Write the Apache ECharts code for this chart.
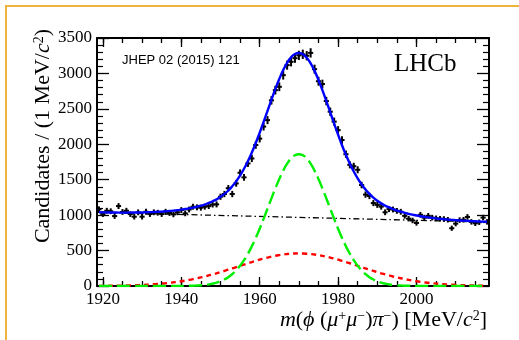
<!DOCTYPE html>
<html>
<head>
<meta charset="utf-8">
<script src="https://cdn.jsdelivr.net/npm/echarts@6/dist/echarts.min.js"></script>
<style>
html,body{margin:0;padding:0;background:#fff;}
#chart{width:519px;height:340px;}
</style>
</head>
<body>
<div id="chart"></div>
<script>
// Bin centres (MeV/c^2), 1 MeV bins from 1918.5 to 2018.5
const firstBin = 1919;
const nBins = 100;
const massRange = [1918.5, 2018.5];

// Data: candidates per 1 MeV bin
const candidates = [
  1082,1015,1062,1055,987,1128,1045,1062,1015,978,
  1040,978,1048,1015,1040,1034,1015,1048,1030,1011,
  1040,1072,1025,1080,1119,1110,1105,1119,1128,1150,
  1152,1260,1298,1380,1298,1448,1598,1533,1730,1800,
  1990,2080,2250,2341,2620,2764,2811,2976,3117,3164,
  3215,3255,3270,3250,3290,3060,2890,2850,2610,2460,
  2320,2200,2060,1860,1710,1690,1640,1425,1290,1270,
  1170,1145,1120,1040,1085,1080,1060,1048,990,950,
  925,890,1005,965,990,965,955,950,945,935,
  815,880,930,935,975,905,885,900,965,905
];

// Total fit (blue)
const fitTotal = [
  1040,1039,1039,1037,1037,1036,1036,1036,1036,1037,
  1038,1038,1040,1042,1044,1047,1050,1054,1059,1064,
  1070,1078,1086,1096,1106,1120,1134,1150,1172,1196,
  1223,1259,1300,1348,1408,1477,1559,1655,1762,1884,
  2018,2163,2316,2472,2629,2781,2921,3047,3150,3226,
  3274,3289,3271,3221,3141,3036,2908,2764,2610,2451,
  2291,2136,1987,1851,1727,1616,1518,1434,1361,1299,
  1247,1204,1166,1135,1109,1085,1065,1049,1032,1019,
  1007,995,985,977,968,961,955,948,943,937,
  933,929,925,922,919,915,913,910,908,906
];

// Narrow signal component (green long dashes)
const fitNarrow = [
  0,0,0,0,0,0,0,0,0,0,
  0,0,0,0,0,0,0,0,0,0,
  0,1,2,3,4,7,10,15,23,33,
  47,67,92,125,168,221,286,364,455,561,
  679,809,948,1092,1237,1378,1510,1628,1726,1799,
  1845,1860,1845,1799,1726,1628,1510,1378,1237,1092,
  948,809,679,561,455,364,286,221,168,125,
  92,67,47,33,23,15,10,7,4,3,
  2,1,0,0,0,0,0,0,0,0,
  0,0,0,0,0,0,0,0,0,0
];

// Wide component (red short dashes)
const fitWide = [
  2,2,3,3,4,5,6,7,9,11,
  13,15,18,21,25,29,34,39,45,52,
  59,67,76,86,97,109,121,134,149,164,
  179,196,213,230,248,266,284,303,321,338,
  355,372,387,401,414,426,436,445,451,456,
  459,460,459,456,451,445,436,426,414,401,
  387,372,355,338,321,303,284,266,248,230,
  213,196,179,164,149,134,121,109,97,86,
  76,67,59,52,45,39,34,29,25,21,
  18,15,13,11,9,7,6,5,4,3
];

// Background (black dash-dot), straight line end points
const bkgMass = [1918.5, 2018.5];
const bkgValues = [1039, 902];

const xMajorTicks = [1920, 1940, 1960, 1980, 2000];
const xMinorTicks = [1920,1925,1930,1935,1940,1945,1950,1955,1960,1965,1970,1975,1980,1985,1990,1995,2000,2005,2010,2015];
const yRange = [0, 3500];
const yStep = 500;

const mass = [];
for (let i = 0; i < nBins; i++) mass.push(firstBin + i);
const pair = (xs, ys) => xs.map((x, i) => [x, ys[i]]);
const dataPts = mass.map((m, i) => [m, candidates[i], Math.sqrt(candidates[i])]);

const serif = 'Liberation Serif';
const black = '#000';
const plain = v => String(v);

function xAxisDef(pos, ticks, len, showLabel, showLine) {
  return {
    type: 'value', position: pos, min: massRange[0], max: massRange[1],
    axisLine: {show: showLine, onZero: false, lineStyle: {color: black, width: 2}},
    axisTick: {show: true, inside: true, length: len, customValues: ticks, lineStyle: {color: black, width: 1.3}},
    axisLabel: {show: showLabel, customValues: xMajorTicks, formatter: plain, fontFamily: serif, fontSize: 17, color: black, margin: 5},
    splitLine: {show: false}
  };
}
function yAxisDef(pos, showLabel) {
  return {
    type: 'value', position: pos, min: yRange[0], max: yRange[1], interval: yStep,
    axisLine: {show: true, onZero: false, lineStyle: {color: black, width: 2}},
    axisTick: {show: true, inside: true, length: 12, lineStyle: {color: black, width: 1.3}},
    minorTick: {show: true, splitNumber: 5, length: 6, lineStyle: {color: black, width: 1.2}},
    axisLabel: {show: showLabel, formatter: plain, fontFamily: serif, fontSize: 17, color: black, margin: 5},
    splitLine: {show: false}, minorSplitLine: {show: false}
  };
}

const rich = {
  n: {fontFamily: serif, fontSize: 22, color: black, verticalAlign: 'bottom'},
  i: {fontFamily: serif, fontSize: 22, fontStyle: 'italic', color: black, verticalAlign: 'bottom'},
  s: {fontFamily: serif, fontSize: 14, color: black, verticalAlign: 'top'}
};

const chart = echarts.init(document.getElementById('chart'), null, {renderer: 'canvas'});
chart.setOption({
  animation: false,
  backgroundColor: '#fff',
  grid: {left: 97, top: 38, right: 30, bottom: 54, containLabel: false},
  xAxis: [
    xAxisDef('bottom', xMajorTicks, 9, true, true),
    xAxisDef('bottom', xMinorTicks, 5, false, false),
    xAxisDef('top', xMajorTicks, 9, false, true),
    xAxisDef('top', xMinorTicks, 5, false, false)
  ],
  yAxis: [yAxisDef('left', true), yAxisDef('right', false)],
  graphic: [
    {type: 'rect', silent: true, shape: {x: 6, y: 6, width: 1000, height: 1000},
     style: {fill: 'none', stroke: '#efb43f', lineWidth: 2}},
    {type: 'text', silent: true, x: 122, y: 60.5,
     style: {text: 'JHEP 02 (2015) 121', fontFamily: 'Liberation Sans', fontSize: 13, fill: black,
             textAlign: 'left', textVerticalAlign: 'middle'}},
    {type: 'text', silent: true, x: 394, y: 64,
     style: {text: 'LHCb', fontFamily: serif, fontSize: 25, fill: black,
             textAlign: 'left', textVerticalAlign: 'middle'}},
    {type: 'text', silent: true, x: 487, y: 320,
     style: {text: '{i|m}{n|(}{i|ϕ}{n| (}{i|μ}{s|+}{i|μ}{s|−}{n|)}{i|π}{s|−}{n|) [MeV/}{i|c}{s|2}{n|]}',
             rich: rich, textAlign: 'right', textVerticalAlign: 'middle'}},
    {type: 'text', silent: true, x: 43, y: 29, rotation: Math.PI / 2,
     style: {text: '{n|Candidates / (1 MeV/}{i|c}{s|2}{n|)}',
             rich: rich, textAlign: 'right', textVerticalAlign: 'middle'}}
  ],
  series: [
    {type: 'line', name: 'background', data: pair(bkgMass, bkgValues), showSymbol: false, symbol: 'none',
     lineStyle: {color: black, width: 1.3, type: [6, 3, 1.5, 3]}, z: 3},
    {type: 'line', name: 'wide', data: pair(mass, fitWide), showSymbol: false, symbol: 'none', smooth: true,
     lineStyle: {color: '#ff0000', width: 2.4, type: [5, 4]}, z: 3},
    {type: 'line', name: 'narrow', data: pair(mass, fitNarrow), showSymbol: false, symbol: 'none', smooth: true,
     lineStyle: {color: '#00ee00', width: 2.4, type: [13, 5]}, z: 3},
    {type: 'custom', name: 'data', data: dataPts, z: 4,
     renderItem: function (params, api) {
       const x = api.value(0), y = api.value(1), e = api.value(2);
       const c = api.coord([x, y]);
       const l = api.coord([x - 0.5, y]);
       const r = api.coord([x + 0.5, y]);
       const t = api.coord([x, y + e]);
       const b = api.coord([x, y - e]);
       return {type: 'group', children: [
         {type: 'line', shape: {x1: l[0] - 0.6, y1: c[1], x2: r[0] + 0.6, y2: c[1]}, style: {stroke: black, lineWidth: 2}},
         {type: 'line', shape: {x1: c[0], y1: t[1] - 0.6, x2: c[0], y2: b[1] + 0.6}, style: {stroke: black, lineWidth: 2}}
       ]};
     }},
    {type: 'line', name: 'total', data: pair(mass, fitTotal), showSymbol: false, symbol: 'none', smooth: true,
     lineStyle: {color: '#0000ff', width: 2.4}, z: 5}
  ]
});
</script>
</body>
</html>
